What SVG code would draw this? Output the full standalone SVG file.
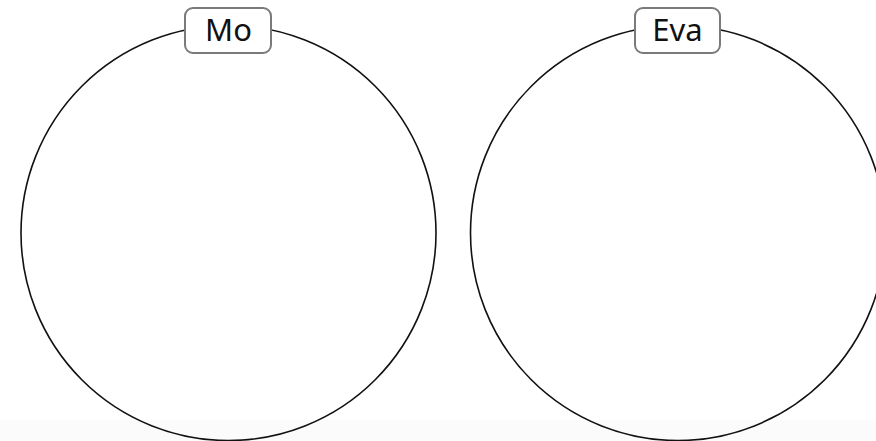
<svg xmlns="http://www.w3.org/2000/svg" width="876" height="441" viewBox="0 0 876 441">
<style>
.ring{fill:none;stroke:#111;stroke-width:1.6}
.tag{fill:#fff;stroke:#7a7a7a;stroke-width:2}
.lbl{font-family:"Noto Sans","DejaVu Sans",sans-serif;font-size:31px;font-weight:normal;fill:#111;text-anchor:middle}
</style>
<rect x="0" y="0" width="876" height="441" fill="#fff"/>
<rect x="0" y="420" width="876" height="21" fill="#fbfbfb"/>
<g id="node-mo">
<circle class="ring" cx="228.5" cy="233" r="207.5"/>
<rect class="tag" x="185" y="8" width="86" height="45" rx="8"/>
<text class="lbl" x="228.5" y="41">Mo</text>
</g>
<g id="node-eva">
<circle class="ring" cx="678" cy="233" r="207.5"/>
<rect class="tag" x="635" y="8" width="85" height="45" rx="8"/>
<text class="lbl" x="677.5" y="41">Eva</text>
</g>
<g id="connectors"></g>
</svg>
